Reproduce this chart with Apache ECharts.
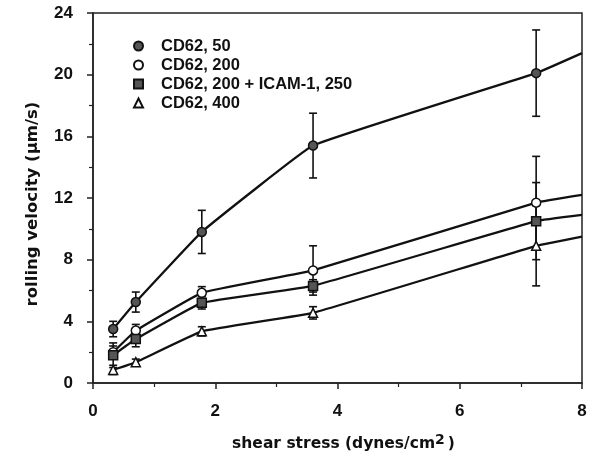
<!DOCTYPE html>
<html>
<head>
<meta charset="utf-8">
<script src="https://cdn.jsdelivr.net/npm/echarts@6/dist/echarts.min.js"></script>
<style>
  html, body { margin: 0; padding: 0; background: #fff; }
  #chart { width: 595px; height: 461px; }
</style>
</head>
<body>
<div id="chart"></div>
<script>
// shear stress of each measured point, and the end of the fitted lines
const shear = [0.33, 0.7, 1.78, 3.6, 7.25];
const lineEndX = 8;

// rolling velocity (um/s) per condition, with error half-widths and line end
const cd50 = [3.5, 5.25, 9.8, 15.4, 20.1];
const cd50Err = [0.5, 0.65, 1.4, 2.1, 2.8];
const cd50End = 21.4;

const cd200 = [2.0, 3.4, 5.85, 7.3, 11.7];
const cd200Err = [0.4, 0.4, 0.4, 1.6, 3.0];
const cd200End = 12.2;

const cdIcam = [1.8, 2.85, 5.2, 6.3, 10.5];
const cdIcamErr = [0.8, 0.5, 0.4, 0.4, 2.5];
const cdIcamEnd = 10.9;

const cd400 = [0.85, 1.35, 3.35, 4.55, 8.9];
const cd400Err = [0.3, 0.2, 0.3, 0.4, 2.6];
const cd400End = 9.5;

const xTicks = [0, 2, 4, 6, 8];
const yTicks = [0, 4, 8, 12, 16, 20, 24];

const names = ['CD62, 50', 'CD62, 200', 'CD62, 200 + ICAM-1, 250', 'CD62, 400'];

const fontFamily = '"Liberation Sans", Arial, sans-serif';
const nameFont = '"DejaVu Sans", sans-serif';

function lineData(vals, endVal) {
  const d = shear.map((x, i) => [x, vals[i]]);
  d.push({ value: [lineEndX, endVal], symbol: 'none' });
  return d;
}

function errData(vals, errs) {
  return shear.map((x, i) => [x, vals[i], errs[i]]);
}

function errorSeries(name, vals, errs) {
  return {
    name: name,
    type: 'custom',
    z: 1,
    silent: true,
    encode: { x: 0, y: 1 },
    data: errData(vals, errs),
    renderItem: function (params, api) {
      const x = api.value(0);
      const y = api.value(1);
      const e = api.value(2);
      const top = api.coord([x, y + e]);
      const bot = api.coord([x, y - e]);
      const w = 4;
      const style = { stroke: '#111', lineWidth: 1.6 };
      return {
        type: 'group',
        children: [
          { type: 'line', shape: { x1: top[0], y1: top[1], x2: bot[0], y2: bot[1] }, style: style },
          { type: 'line', shape: { x1: top[0] - w, y1: top[1], x2: top[0] + w, y2: top[1] }, style: style },
          { type: 'line', shape: { x1: bot[0] - w, y1: bot[1], x2: bot[0] + w, y2: bot[1] }, style: style }
        ]
      };
    }
  };
}

function lineSeries(name, vals, endVal, symbol, fill, size) {
  return {
    name: name,
    type: 'line',
    z: 3,
    smooth: 0.08,
    symbol: symbol,
    symbolSize: size,
    showAllSymbol: true,
    data: lineData(vals, endVal),
    lineStyle: { color: '#111', width: 2.3 },
    itemStyle: { color: fill, borderColor: '#111', borderWidth: 1.5, opacity: 1 },
    emphasis: { disabled: true }
  };
}

const chart = echarts.init(document.getElementById('chart'));
chart.setOption({
  animation: false,
  backgroundColor: '#fff',
  grid: {
    left: 93, right: 13, top: 13, bottom: 78,
    show: true, borderColor: '#222', borderWidth: 1.5, backgroundColor: 'transparent'
  },
  legend: {
    orient: 'vertical',
    left: 128,
    top: 32,
    itemWidth: 9,
    itemHeight: 9,
    itemGap: 1,
    data: [
      { name: names[0], icon: 'circle' },
      { name: names[1], icon: 'circle' },
      { name: names[2], icon: 'rect' },
      { name: names[3], icon: 'triangle' }
    ],
    textStyle: {
      fontFamily: fontFamily, fontWeight: 'bold', fontSize: 16.5, lineHeight: 18,
      color: '#111', padding: [0, 0, 0, 13]
    }
  },
  xAxis: {
    type: 'value',
    min: xTicks[0],
    max: xTicks[xTicks.length - 1],
    interval: 2,
    name: 'shear stress (dynes/cm{sup|2})',
    nameLocation: 'middle',
    nameGap: 50,
    nameTextStyle: {
      fontFamily: nameFont, fontWeight: 'bold', fontSize: 15.5, color: '#111', padding: [0, 0, 0, 12],
      rich: {
        sup: { fontFamily: nameFont, fontWeight: 'bold', fontSize: 14, color: '#111', verticalAlign: 'bottom', padding: [0, 3, 8, 0] }
      }
    },
    axisLine: { lineStyle: { color: '#222', width: 1.5 } },
    axisTick: { length: 6, lineStyle: { color: '#222', width: 1.5 } },
    minorTick: { show: true, splitNumber: 2, length: 4, lineStyle: { color: '#222', width: 1.2 } },
    splitLine: { show: false },
    axisLabel: { margin: 20, fontFamily: fontFamily, fontWeight: 'bold', fontSize: 17, color: '#111' }
  },
  yAxis: {
    type: 'value',
    min: yTicks[0],
    max: yTicks[yTicks.length - 1],
    interval: 4,
    name: 'rolling velocity (\u00b5m/s)',
    nameLocation: 'middle',
    nameGap: 52,
    nameTextStyle: { fontFamily: nameFont, fontWeight: 'bold', fontSize: 16.5, color: '#111', padding: [0, 12, 0, 0] },
    axisLine: { show: true, lineStyle: { color: '#222', width: 1.5 } },
    axisTick: { show: true, length: 6, lineStyle: { color: '#222', width: 1.5 } },
    minorTick: { show: true, splitNumber: 2, length: 4, lineStyle: { color: '#222', width: 1.2 } },
    splitLine: { show: false },
    axisLabel: { margin: 20, fontFamily: fontFamily, fontWeight: 'bold', fontSize: 17, color: '#111' }
  },
  series: [
    errorSeries('err50', cd50, cd50Err),
    errorSeries('err200', cd200, cd200Err),
    errorSeries('errIcam', cdIcam, cdIcamErr),
    errorSeries('err400', cd400, cd400Err),
    lineSeries(names[0], cd50, cd50End, 'circle', '#555', 9),
    lineSeries(names[1], cd200, cd200End, 'circle', '#fff', 9),
    lineSeries(names[2], cdIcam, cdIcamEnd, 'rect', '#555', 9),
    lineSeries(names[3], cd400, cd400End, 'triangle', '#fff', 9)
  ]
});
</script>
</body>
</html>
